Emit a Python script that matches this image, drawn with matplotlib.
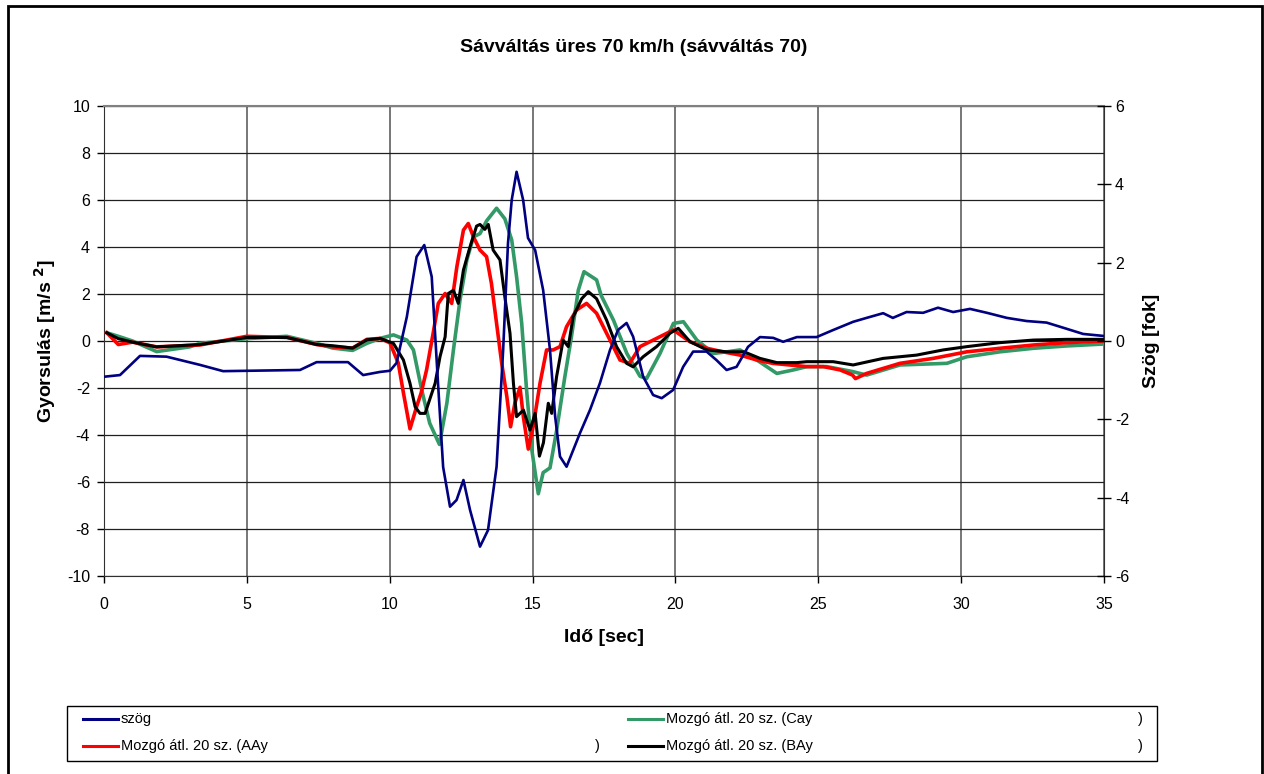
import matplotlib
matplotlib.use('Agg')
import matplotlib.pyplot as plt
from matplotlib.patches import Rectangle
from matplotlib.lines import Line2D

plt.rcParams['font.family'] = ['Liberation Sans', 'DejaVu Sans']
plt.rcParams['axes.unicode_minus'] = False

# ── data ───────────────────────────────────────────────────────
# szög (right axis, degrees)
t_szog = [0.03, 0.56, 1.26, 2.19, 3.36, 4.17, 6.86, 7.44, 8.54, 9.07, 9.66, 10.01,
          10.24, 10.60, 10.94, 11.21, 11.47, 11.69, 11.87, 12.11, 12.34, 12.58, 12.81,
          13.16, 13.44, 13.74, 13.97, 14.14, 14.27, 14.44, 14.67, 14.84, 15.09, 15.37,
          15.61, 15.79, 15.96, 16.19, 16.66, 17.01, 17.36, 17.71, 17.99, 18.29, 18.52,
          18.87, 19.22, 19.52, 19.92, 20.27, 20.62, 21.09, 21.44, 21.79, 22.14, 22.54,
          22.96, 23.42, 23.77, 24.25, 24.94, 25.52, 26.22, 26.69, 27.27, 27.61, 28.09,
          28.67, 29.19, 29.72, 30.31, 30.90, 31.60, 32.29, 32.99, 33.70, 34.27, 34.97]
szog = [-0.91, -0.87, -0.38, -0.40, -0.61, -0.77, -0.74, -0.54, -0.54, -0.87, -0.79, -0.76,
        -0.56, 0.62, 2.15, 2.45, 1.64, -1.07, -3.22, -4.23, -4.06, -3.55, -4.31,
        -5.25, -4.83, -3.21, -0.23, 2.50, 3.60, 4.32, 3.60, 2.63, 2.32, 1.30,
        -0.23, -1.93, -2.95, -3.21, -2.35, -1.76, -1.07, -0.23, 0.28, 0.46, 0.11,
        -0.91, -1.38, -1.46, -1.25, -0.66, -0.27, -0.27, -0.49, -0.74, -0.66, -0.15,
        0.10, 0.08, -0.02, 0.10, 0.10, 0.28, 0.49, 0.59, 0.71, 0.59, 0.74,
        0.72, 0.85, 0.74, 0.82, 0.72, 0.59, 0.51, 0.47, 0.31, 0.18, 0.13]

# Mozgó átl. 20 sz. (AAy)  [m/s2]
t_aay = [0.1, 0.5, 1.0, 1.84, 3.36, 5.0, 6.4, 7.44, 8.0, 8.7, 9.2, 9.66, 10.01, 10.30,
         10.48, 10.71, 10.94, 11.10, 11.29, 11.52, 11.70, 11.94, 12.17, 12.35, 12.58,
         12.75, 12.93, 13.16, 13.39, 13.56, 13.74, 13.92, 14.10, 14.23, 14.38, 14.56,
         14.68, 14.85, 15.02, 15.26, 15.49, 15.72, 15.96, 16.19, 16.54, 16.89, 17.24,
         17.71, 18.06, 18.4, 18.76, 19.34, 19.93, 20.51, 21.1, 21.66, 22.26, 22.85,
         23.4, 23.99, 24.6, 25.18, 25.76, 26.2, 26.3, 26.69, 27.86, 29.02, 30.2,
         31.36, 32.53, 33.7, 34.97]
aay = [0.35, -0.15, -0.05, -0.25, -0.17, 0.2, 0.15, -0.15, -0.25, -0.3, 0.07, 0.11, -0.08, -0.94,
       -2.21, -3.74, -2.80, -2.21, -1.23, 0.33, 1.60, 2.02, 1.60, 3.16, 4.72,
       5.0, 4.43, 3.87, 3.59, 2.45, 0.75, -0.95, -2.37, -3.65, -2.65, -1.97,
       -3.25, -4.6, -3.65, -1.8, -0.38, -0.38, -0.24, 0.61, 1.32, 1.6, 1.18,
       0.04, -0.81, -0.95, -0.24, 0.11, 0.47, -0.03, -0.31, -0.46, -0.6, -0.81,
       -0.95, -1.02, -1.09, -1.09, -1.23, -1.45, -1.6, -1.38, -0.95, -0.74, -0.46,
       -0.31, -0.17, -0.07, 0.0]

# Mozgó átl. 20 sz. (Cay)
t_cay = [0.1, 0.5, 1.0, 1.84, 3.0, 3.36, 5.0, 6.4, 7.44, 8.0, 8.7, 9.2, 9.66, 10.13,
         10.60, 10.83, 11.12, 11.40, 11.74, 12.0, 12.23, 12.46, 12.7, 12.93, 13.16,
         13.39, 13.74, 14.03, 14.27, 14.44, 14.62, 14.79, 14.97, 15.2, 15.37, 15.61,
         15.84, 16.13, 16.36, 16.6, 16.8, 17.24, 17.4, 17.83, 18.3, 18.76, 18.99,
         19.46, 19.93, 20.28, 20.75, 21.33, 21.8, 22.26, 22.85, 23.55, 24.13, 24.6,
         25.3, 26.2, 26.69, 27.86, 29.5, 30.2, 31.36, 32.53, 33.7, 34.97]
cay = [0.35, 0.2, 0.0, -0.45, -0.25, -0.1, 0.1, 0.2, -0.1, -0.3, -0.4, -0.1, 0.11, 0.26,
       0.04, -0.38, -2.08, -3.5, -4.4, -2.65, -0.38, 1.74, 3.45, 4.43, 4.57,
       5.11, 5.65, 5.2, 4.3, 2.74, 0.75, -2.08, -4.6, -6.5, -5.6, -5.4,
       -3.82, -1.52, 0.18, 2.16, 2.95, 2.6, 1.94, 0.89, -0.53, -1.5, -1.6,
       -0.53, 0.75, 0.82, 0.04, -0.53, -0.46, -0.38, -0.81, -1.38, -1.23, -1.09,
       -1.09, -1.3, -1.45, -1.02, -0.95, -0.67, -0.46, -0.31, -0.21, -0.13]

# Mozgó átl. 20 sz. (BAy)
t_bay = [0.1, 0.5, 1.0, 1.84, 3.36, 5.0, 6.4, 7.44, 8.0, 8.7, 9.2, 9.66, 10.13, 10.48,
         10.71, 10.89, 11.06, 11.24, 11.41, 11.59, 11.76, 11.94, 12.05, 12.23, 12.40,
         12.58, 12.81, 13.04, 13.16, 13.33, 13.45, 13.62, 13.86, 14.03, 14.21, 14.33,
         14.44, 14.68, 14.91, 15.09, 15.24, 15.38, 15.55, 15.67, 15.84, 16.07, 16.25,
         16.42, 16.72, 16.95, 17.24, 17.59, 17.94, 18.29, 18.52, 18.87, 19.34, 19.81,
         20.1, 20.51, 21.1, 21.8, 22.4, 22.96, 23.55, 24.25, 24.6, 25.52, 26.22,
         27.27, 28.44, 29.37, 30.2, 31.36, 32.53, 33.7, 34.97]
bay = [0.35, 0.1, -0.05, -0.25, -0.15, 0.15, 0.15, -0.15, -0.2, -0.3, 0.05, 0.11, -0.1, -0.81,
       -1.8, -2.8, -3.08, -3.08, -2.45, -1.8, -0.67, 0.18, 2.02, 2.16, 1.6,
       3.02, 4.0, 4.89, 4.96, 4.75, 4.96, 3.87, 3.45, 1.87, 0.33, -1.8,
       -3.22, -2.94, -3.79, -3.08, -4.9, -4.33, -2.65, -3.08, -1.52, 0.04, -0.24,
       1.03, 1.8, 2.1, 1.8, 0.89, -0.24, -0.95, -1.1, -0.67, -0.24, 0.33,
       0.54, -0.03, -0.38, -0.46, -0.46, -0.74, -0.92, -0.92, -0.88, -0.88, -1.02,
       -0.74, -0.6, -0.38, -0.24, -0.07, 0.04, 0.07, 0.07]

x_ticks = [0, 5, 10, 15, 20, 25, 30, 35]
y_ticks = [-10, -8, -6, -4, -2, 0, 2, 4, 6, 8, 10]
y2_ticks = [-6, -4, -2, 0, 2, 4, 6]

labels = ['szög', 'Mozgó átl. 20 sz. (AAy', 'Mozgó átl. 20 sz. (Cay', 'Mozgó átl. 20 sz. (BAy']
colors = ['#000080', '#FF0000', '#339966', '#000000']

W, H = 1264, 774
def fx(px):
    return px / W
def fy(py):
    return 1 - py / H

fig = plt.figure(figsize=(12.64, 7.74), dpi=100)
fig.patch.set_facecolor('white')

ax = fig.add_axes([fx(104), fy(576), fx(1104) - fx(104), fy(106) - fy(576)])
ax.plot(t_cay, cay, color=colors[2], lw=2.6, zorder=3)
ax.plot(t_aay, aay, color=colors[1], lw=2.6, zorder=4)
ax.plot(t_bay, bay, color=colors[3], lw=2.2, zorder=5)

ax.set_xlim(0, 35)
ax.set_ylim(-10, 10)
ax.set_xticks(x_ticks)
ax.set_yticks(y_ticks)
ax.grid(axis='y', color='#202020', lw=0.9)
ax.grid(axis='x', color='#606060', lw=1.2)
ax.set_axisbelow(True)
ax.tick_params(axis='y', direction='out', length=5, width=1, labelsize=11.5, pad=5)
ax.tick_params(axis='x', direction='out', length=5, width=1, labelsize=11.5, pad=10)
for s in ['left', 'bottom', 'right']:
    ax.spines[s].set_color('#303030')
ax.spines['top'].set_color('#808080')
ax.spines['top'].set_linewidth(1.5)

ax2 = ax.twinx()
ax2.plot(t_szog, szog, color=colors[0], lw=1.9, zorder=6)
ax2.set_ylim(-6, 6)
ax2.set_yticks(y2_ticks)
ax2.tick_params(axis='y', direction='inout', length=10, width=1, labelsize=11.5, pad=3)
for s in ax2.spines.values():
    s.set_visible(False)

# titles
fig.text(fx(634), fy(47), 'Sávváltás üres 70 km/h (sávváltás 70)',
         ha='center', va='center', fontsize=14, fontweight='bold')
fig.text(fx(45), fy(341), r'Gyorsulás [m/s $\mathbf{^2}$]', rotation=90,
         ha='center', va='center', fontsize=14, fontweight='bold')
fig.text(fx(1152), fy(341), 'Szög [fok]', rotation=90,
         ha='center', va='center', fontsize=14, fontweight='bold')
fig.text(fx(604), fy(637), 'Idő [sec]',
         ha='center', va='center', fontsize=14, fontweight='bold')

# legend box (Excel style, two columns)
fig.add_artist(Rectangle((fx(67), fy(761)), fx(1157) - fx(67), fy(706) - fy(761),
                         transform=fig.transFigure, fill=False, ec='black', lw=1))
pos = [(83, 719), (83, 746), (628, 719), (628, 746)]
for (px, py), lab, c in zip(pos, labels, colors):
    fig.add_artist(Line2D([fx(px), fx(px + 35)], [fy(py), fy(py)],
                          transform=fig.transFigure, color=c, lw=2.2))
    fig.text(fx(px + 38), fy(py), lab, ha='left', va='center', fontsize=10.5)
for px, py in [(597, 746), (1140, 719), (1140, 746)]:
    fig.text(fx(px), fy(py), ')', ha='center', va='center', fontsize=10.5)

# outer chart border
fig.add_artist(Rectangle((fx(8), -0.02), fx(1262) - fx(8), fy(6) + 0.02,
                         transform=fig.transFigure, fill=False, ec='black', lw=2))

fig.savefig('out.png', dpi=100, facecolor='white')
